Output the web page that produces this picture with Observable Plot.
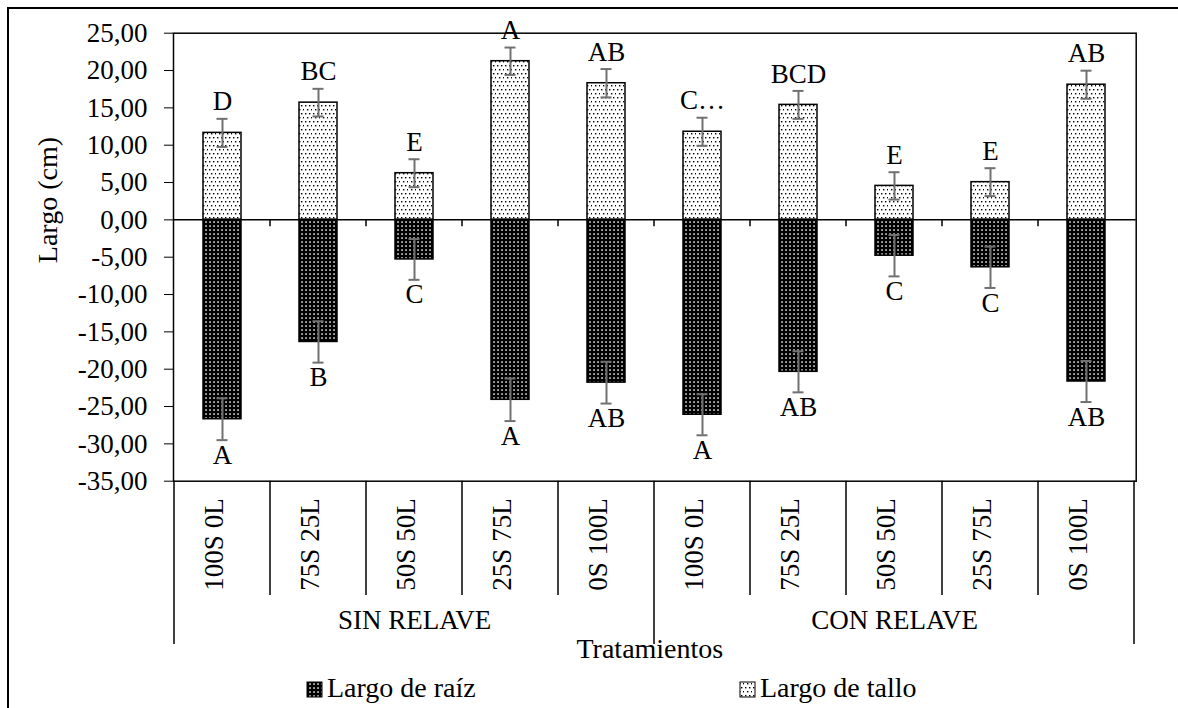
<!DOCTYPE html>
<html><head><meta charset="utf-8">
<script src="https://cdn.jsdelivr.net/npm/d3@7"></script>
<script src="https://cdn.jsdelivr.net/npm/@observablehq/plot@0.6"></script>
<style>
html,body{margin:0;padding:0;background:#fff;overflow:hidden;}
#wrap{position:relative;width:1178px;height:708px;overflow:hidden;}
#border{position:absolute;left:7px;top:7px;width:1300px;height:800px;border-left:2px solid #000;border-top:2px solid #000;box-sizing:border-box;}
#chart{position:absolute;left:0;top:0;}
#legend{position:absolute;left:0;top:670px;}
#defs{position:absolute;width:0;height:0;}
</style></head>
<body>
<div id="wrap">
  <div id="border"></div>
  <svg id="defs" width="0" height="0">
    <defs>
      <pattern id="patTallo" patternUnits="userSpaceOnUse" width="8" height="8">
        <rect width="8" height="8" fill="#fff"/>
        <rect x="1" y="1" width="1.4" height="1.4" fill="#000"/>
        <rect x="5" y="1" width="1.4" height="1.4" fill="#000"/>
        <rect x="3" y="5" width="1.4" height="1.4" fill="#000"/>
        <rect x="7" y="5" width="1.4" height="1.4" fill="#000"/>
      </pattern>
      <pattern id="patRaiz" patternUnits="userSpaceOnUse" width="4" height="4">
        <rect width="4" height="4" fill="#000"/>
        <rect x="1.3" y="1.3" width="1.5" height="1.5" fill="#fff"/>
      </pattern>
    </defs>
  </svg>
  <div id="chart"></div>
  <div id="legend"></div>
</div>
<script>
const groups = ["SIN RELAVE", "CON RELAVE"];
const treatments = ["100S 0L", "75S 25L", "50S 50L", "25S 75L", "0S 100L"];
const tallo = [11.65, 15.7, 6.25, 21.25, 18.3, 11.8, 15.4, 4.55, 5.05, 18.1];
const talloErr = [1.88, 1.85, 1.87, 1.83, 1.9, 1.88, 1.87, 1.83, 1.87, 1.88];
const raiz = [-26.7, -16.35, -5.3, -24.1, -21.8, -26.1, -20.35, -4.8, -6.35, -21.65];
const raizErr = [2.8, 2.77, 2.73, 2.85, 2.8, 2.75, 2.75, 2.77, 2.77, 2.75];
const letrasTallo = ["D", "BC", "E", "A", "AB", "C…", "BCD", "E", "E", "AB"];
const letrasRaiz = ["A", "B", "C", "A", "AB", "A", "AB", "C", "C", "AB"];
const seriesNames = ["Largo de raíz", "Largo de tallo"];
const yLabel = "Largo (cm)";
const xLabel = "Tratamientos";

const keys = groups.flatMap(g => treatments.map(t => g + "|" + t));
const rows = keys.map((k, i) => ({
  key: k, group: groups[Math.floor(i / treatments.length)], treatment: treatments[i % treatments.length],
  tallo: tallo[i], talloErr: talloErr[i], raiz: raiz[i], raizErr: raizErr[i],
  lt: letrasTallo[i], lr: letrasRaiz[i]
}));
const fmt = d => d.toFixed(2).replace(".", ",");
const errColor = "#707070";
const font = "Liberation Serif";

const plot = Plot.plot({
  width: 1178, height: 670,
  marginTop: 32.7, marginLeft: 173, marginRight: 42.3, marginBottom: 189.3,
  style: {fontFamily: font, fontSize: "27px", color: "#000", background: "transparent", overflow: "visible"},
  x: {type: "band", domain: keys, paddingInner: 0.6, paddingOuter: 0.3, axis: null},
  y: {domain: [-35, 25], ticks: 12, tickFormat: fmt, tickSize: 9, tickPadding: 17, label: null},
  marks: [
    Plot.barY(rows, {x: "key", y1: 0, y2: "tallo", fill: "url(#patTallo)", stroke: "#000", strokeWidth: 1.5}),
    Plot.barY(rows, {x: "key", y1: 0, y2: "raiz", fill: "url(#patRaiz)", stroke: "#000", strokeWidth: 1.5}),
    Plot.ruleY([0], {stroke: "#000", strokeWidth: 1.5}),
    Plot.frame({stroke: "#000", strokeWidth: 1.5}),
    Plot.ruleX(rows, {x: "key", y1: d => d.tallo - d.talloErr, y2: d => d.tallo + d.talloErr, stroke: errColor, strokeWidth: 2}),
    Plot.tickY(rows, {x: "key", y: d => d.tallo + d.talloErr, stroke: errColor, strokeWidth: 2, insetLeft: 13.5, insetRight: 13.5}),
    Plot.tickY(rows, {x: "key", y: d => d.tallo - d.talloErr, stroke: errColor, strokeWidth: 2, insetLeft: 13.5, insetRight: 13.5}),
    Plot.ruleX(rows, {x: "key", y1: d => d.raiz - d.raizErr, y2: d => d.raiz + d.raizErr, stroke: errColor, strokeWidth: 2}),
    Plot.tickY(rows, {x: "key", y: d => d.raiz + d.raizErr, stroke: errColor, strokeWidth: 2, insetLeft: 13.5, insetRight: 13.5}),
    Plot.tickY(rows, {x: "key", y: d => d.raiz - d.raizErr, stroke: errColor, strokeWidth: 2, insetLeft: 13.5, insetRight: 13.5}),
    Plot.text(rows, {x: "key", y: d => d.tallo + d.talloErr, text: "lt", dy: -17, fontSize: 27, fontFamily: font, fill: "#000"}),
    Plot.text(rows, {x: "key", y: d => d.raiz - d.raizErr, text: "lr", dy: 15, fontSize: 27, fontFamily: font, fill: "#000"}),
    Plot.text(rows, {x: "key", text: "treatment", frameAnchor: "bottom", dy: 63.3, rotate: -90, fontSize: 27, fontFamily: font, fill: "#000"}),
    Plot.text(rows.filter(d => d.treatment === treatments[2]), {x: "key", text: "group", frameAnchor: "bottom", dy: 147.5, fontSize: 27, fontFamily: font, fill: "#000"}),
    Plot.text([xLabel], {text: d => d, frameAnchor: "bottom", dy: 176.5, dx: -5, fontSize: 28, fontFamily: font, fill: "#000"}),
    Plot.text([yLabel], {text: d => d, frameAnchor: "left", rotate: -90, dx: -125, dy: 6, fontSize: 28, fontFamily: font, fill: "#000"})
  ]
});
document.getElementById("chart").appendChild(plot);

// category separators and zero-line ticks, from Plot's own scales
const svg = plot.tagName.toLowerCase() === "svg" ? plot : plot.querySelector("svg");
d3.select(svg).selectAll("text").attr("font-family", font);
const xs = plot.scale("x"), ys = plot.scale("y");
const step = xs.step, bw = xs.bandwidth;
const left0 = xs.apply(keys[0]) - (step - bw) / 2;
const yBottom = ys.apply(-35), yZero = ys.apply(0);
const g = d3.select(svg).append("g").attr("stroke", "#000").attr("stroke-width", 1.5);
for (let i = 0; i <= keys.length; i++) {
  const x = left0 + i * step;
  const major = i % treatments.length === 0;
  g.append("line").attr("x1", x).attr("x2", x).attr("y1", yBottom).attr("y2", yBottom + (major ? 163.3 : 114.3));
  if (i > 0 && i < keys.length) {
    g.append("line").attr("x1", x).attr("x2", x).attr("y1", yZero).attr("y2", yZero + 7);
  }
}

// legend
const leg = d3.select("#legend").append("svg").attr("width", 1178).attr("height", 38)
  .attr("font-family", font).attr("font-size", 28);
const legItems = [{name: seriesNames[0], fill: "url(#patRaiz)", x: 307}, {name: seriesNames[1], fill: "url(#patTallo)", x: 740}];
for (const it of legItems) {
  leg.append("rect").attr("x", it.x).attr("y", 12).attr("width", 15).attr("height", 15)
    .attr("fill", it.fill).attr("stroke", "#000").attr("stroke-width", 1);
  leg.append("text").attr("x", it.x + 20).attr("y", 27).attr("font-family", font).text(it.name);
}
</script>
</body></html>
